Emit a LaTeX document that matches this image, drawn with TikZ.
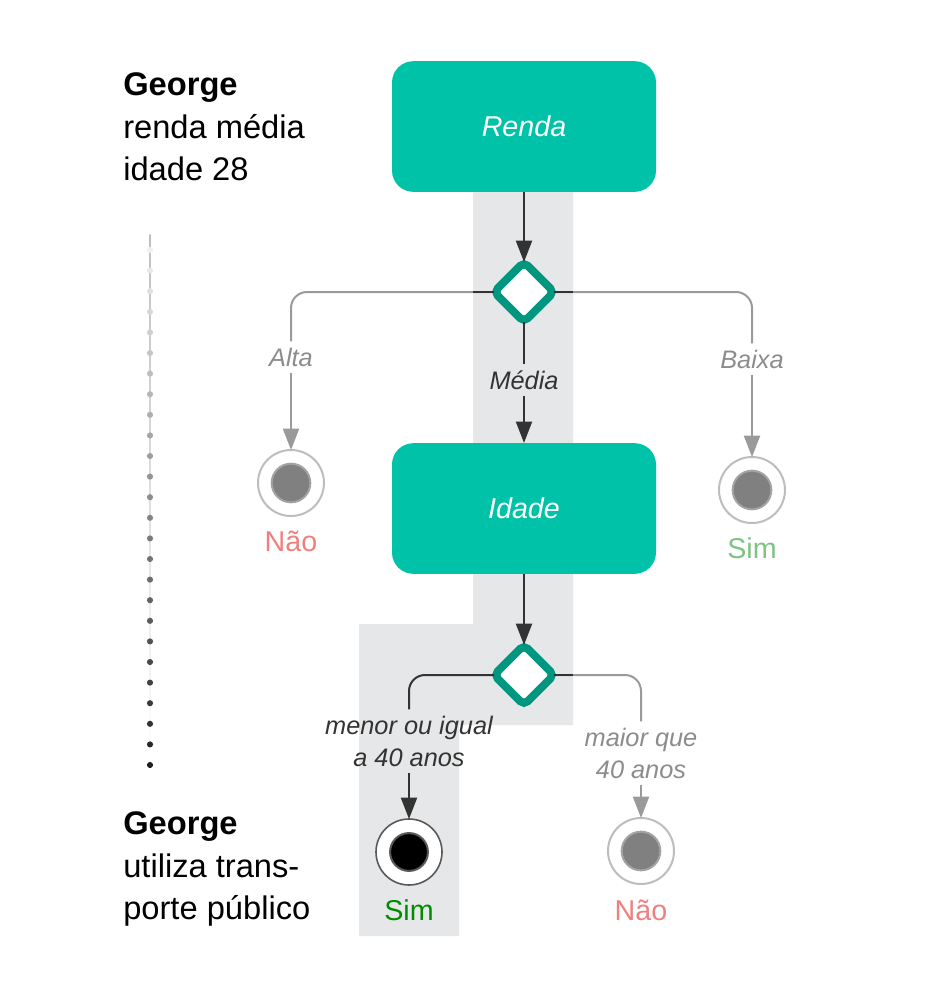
\documentclass[tikz,border=0pt]{standalone}
\usepackage{fontspec}
\setmainfont{Liberation Sans}
\usetikzlibrary{positioning,shapes.geometric,arrows.meta}

\definecolor{boxteal}{HTML}{00C2A8}
\definecolor{diateal}{HTML}{00967F}
\definecolor{bandgray}{HTML}{E6E7E8}
\definecolor{darkgray}{HTML}{333333}
\definecolor{lightgray}{HTML}{9A9A9A}
\definecolor{labelgray}{HTML}{8C8C8C}
\definecolor{naored}{HTML}{F08080}
\definecolor{simlight}{HTML}{7DC383}
\definecolor{simdark}{HTML}{008C00}

\tikzset{
  question/.style={rectangle, fill=boxteal, rounded corners=16pt, minimum width=198pt, minimum height=98pt,
    text=white, font=\itshape\fontsize{21.5}{26}\selectfont},
  choice/.style={diamond, draw=diateal, fill=white, line width=6pt, rounded corners=4pt,
    minimum size=45pt, inner sep=0pt, outer sep=0pt},
  endgray/.style={circle, draw=black!26, fill=white, line width=1.5pt, minimum size=49.5pt, inner sep=0pt, outer sep=0pt,
    path picture={\draw[black!36, fill=black!50, line width=1.5pt] (path picture bounding box.center) circle (14.5pt);}},
  endblack/.style={circle, draw=black!65, fill=white, line width=1.2pt, minimum size=49.5pt, inner sep=0pt, outer sep=0pt,
    path picture={\draw[black!65, fill=black, line width=1.5pt] (path picture bounding box.center) circle (14.2pt);}},
  branch/.style={font=\itshape\fontsize{19}{24}\selectfont, align=center, inner sep=4.5pt},
  answer/.style={font=\fontsize{21.5}{26}\selectfont, inner sep=0pt},
  infotext/.style={font=\fontsize{24.5}{32.2}\selectfont, align=left, inner sep=0pt, anchor=north west},
  darkline/.style={draw=darkgray, line width=1.5pt},
  grayline/.style={draw=lightgray, line width=1.5pt},
  darkarrow/.style={darkline, -{Triangle[width=12pt,length=16pt]}},
  grayarrow/.style={grayline, -{Triangle[width=12pt,length=16pt]}},
}

\begin{document}
\begin{tikzpicture}[x=0.75pt, y=-0.75pt]
    \useasboundingbox (0,0) rectangle (945,1008);

    % highlighted path
    \fill[bandgray] (473,192) -- (573,192) -- (573,725) -- (459,725) -- (459,936) -- (359,936) -- (359,624) -- (473,624) -- cycle;
    \coordinate (bandL) at (473,192);
    \coordinate (bandR) at (573,192);

    % timeline
    \shade[top color=black!25, bottom color=white] (149.4,234) rectangle (150.6,765);
    \foreach \i in {0,...,25} {
        \pgfmathsetmacro{\dotshade}{6+\i*81/25}
        \fill[black!\dotshade] (150,{250+\i*20.6}) circle (2.3pt);
    }

    \node[infotext] (before) at (123,72) {\textbf{George}\\renda média\\idade 28};
    \node[infotext] (after) at (123,811) {\textbf{George}\\utiliza trans-\\porte público};

    % tree
    \node[question] (renda) at (524,126.5) {Renda};
    \node[choice] (d1) at (524,292) {};
    \node[branch, text=labelgray] (alta) at (291,357) {Alta};
    \node[branch, text=labelgray] (baixa) at (752,359) {Baixa};
    \node[branch, text=darkgray] (media) at (524,380) {Média};
    \node[endgray] (nao1) at (291,483) {};
    \node[endgray] (sim1) at (752,490) {};
    \node[answer, text=naored] (nao1txt) at (291,541) {Não};
    \node[answer, text=simlight] (sim1txt) at (752,548) {Sim};

    \node[question] (idade) at (524,508.5) {Idade};
    \node[choice] (d2) at (524,675) {};
    \node[branch, text=darkgray] (menor) at (409,741) {menor ou igual\\a 40 anos};
    \node[branch, text=labelgray] (maior) at (641,753) {maior que\\40 anos};
    \node[endblack] (sim2) at (409,852) {};
    \node[endgray] (nao2) at (641,851) {};
    \node[answer, text=simdark] (sim2txt) at (409,910) {Sim};
    \node[answer, text=naored] (nao2txt) at (641,910) {Não};

    % connectors
    \draw[darkarrow] (renda.south) -- (d1.north);
    \draw[grayline, rounded corners=12pt] (d1.west) -| (alta.north);
    \draw[darkline] (d1.west) -- (d1.west -| bandL);
    \draw[grayarrow] (alta.south) -- (nao1.north);
    \draw[grayline, rounded corners=12pt] (d1.east) -| (baixa.north);
    \draw[darkline] (d1.east) -- (d1.east -| bandR);
    \draw[grayarrow] (baixa.south) -- (sim1.north);
    \draw[darkline] (d1.south) -- (media.north);
    \draw[darkarrow] (media.south) -- (idade.north);

    \draw[darkarrow] (idade.south) -- (d2.north);
    \draw[darkline, rounded corners=12pt] (d2.west) -| (menor.north);
    \draw[darkarrow] (menor.south) -- (sim2.north);
    \draw[grayline, rounded corners=12pt] (d2.east) -| (maior.north);
    \draw[darkline] (d2.east) -- (d2.east -| bandR);
    \draw[grayarrow] (maior.south) -- (nao2.north);
\end{tikzpicture}
\end{document}
